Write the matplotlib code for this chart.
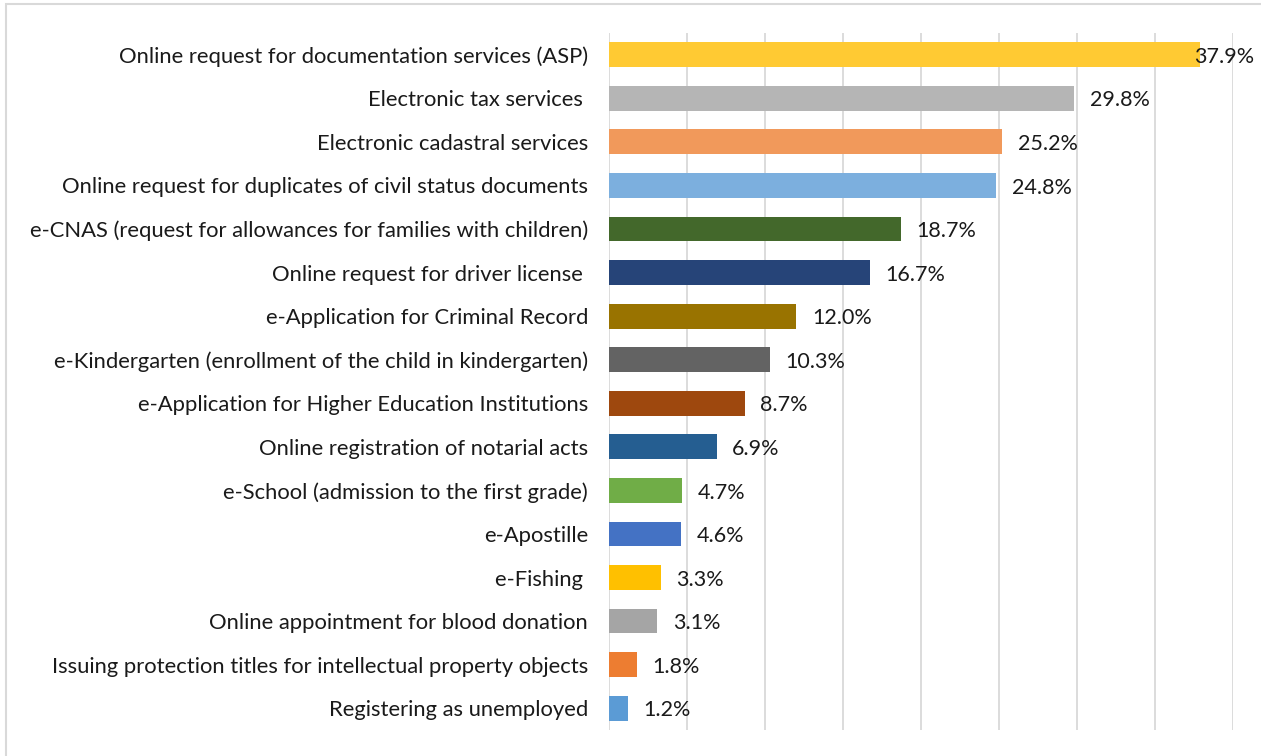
import matplotlib
matplotlib.use("Agg")
import matplotlib.pyplot as plt
from matplotlib.patches import Rectangle

categories = [
    "Online request for documentation services (ASP)",
    "Electronic tax services ",
    "Electronic cadastral services",
    "Online request for duplicates of civil status documents",
    "e-CNAS (request for allowances for families with children)",
    "Online request for driver license ",
    "e-Application for Criminal Record",
    "e-Kindergarten (enrollment of the child in kindergarten)",
    "e-Application for Higher Education Institutions",
    "Online registration of notarial acts",
    "e-School (admission to the first grade)",
    "e-Apostille",
    "e-Fishing ",
    "Online appointment for blood donation",
    "Issuing protection titles for intellectual property objects",
    "Registering as unemployed",
]
values = [37.9, 29.8, 25.2, 24.8, 18.7, 16.7, 12.0, 10.3, 8.7, 6.9, 4.7, 4.6, 3.3, 3.1, 1.8, 1.2]
colors = [
    "#FFCA33", "#B5B5B5", "#F1995B", "#7CAFDE", "#43682B", "#264478",
    "#997300", "#636363", "#9E480E", "#255E91", "#70AD47", "#4472C4",
    "#FFC000", "#A5A5A5", "#ED7D31", "#5B9BD5",
]

plt.rcParams["font.family"] = ["Lato", "DejaVu Sans"]

fig = plt.figure(figsize=(12.61, 7.56), dpi=100)
ax = fig.add_axes([0.483, 0.0344, 0.495, 0.9220])

y = list(range(len(categories)))
ax.barh(y, values, height=0.57, color=colors, zorder=3)
ax.set_xlim(0, 40)
ax.set_ylim(len(categories) - 0.5, -0.5)
ax.set_xticks(range(0, 45, 5))
ax.set_xticklabels([])
ax.tick_params(axis="x", length=0)
ax.tick_params(axis="y", length=0, pad=15, labelsize=15.8, labelcolor="#1a1a1a")
ax.set_yticks(y)
ax.set_yticklabels(categories)
ax.grid(axis="x", color="#D9D9D9", linewidth=1.3, zorder=0)
for s in ax.spines.values():
    s.set_visible(False)

for yi, v in zip(y, values):
    x_text = min(v + 1.0, 37.5)
    ax.text(x_text, yi + 0.05, f"{v:.1f}%", va="center", ha="left",
            fontsize=15.5, color="#1a1a1a", zorder=4)

fig.patches.append(Rectangle((6 / 1261, -0.01), 1.0, 1 - 4 / 756 + 0.01,
                             transform=fig.transFigure, fill=False,
                             edgecolor="#D9D9D9", linewidth=1.5))

fig.savefig("out.png", dpi=100, facecolor="white")
